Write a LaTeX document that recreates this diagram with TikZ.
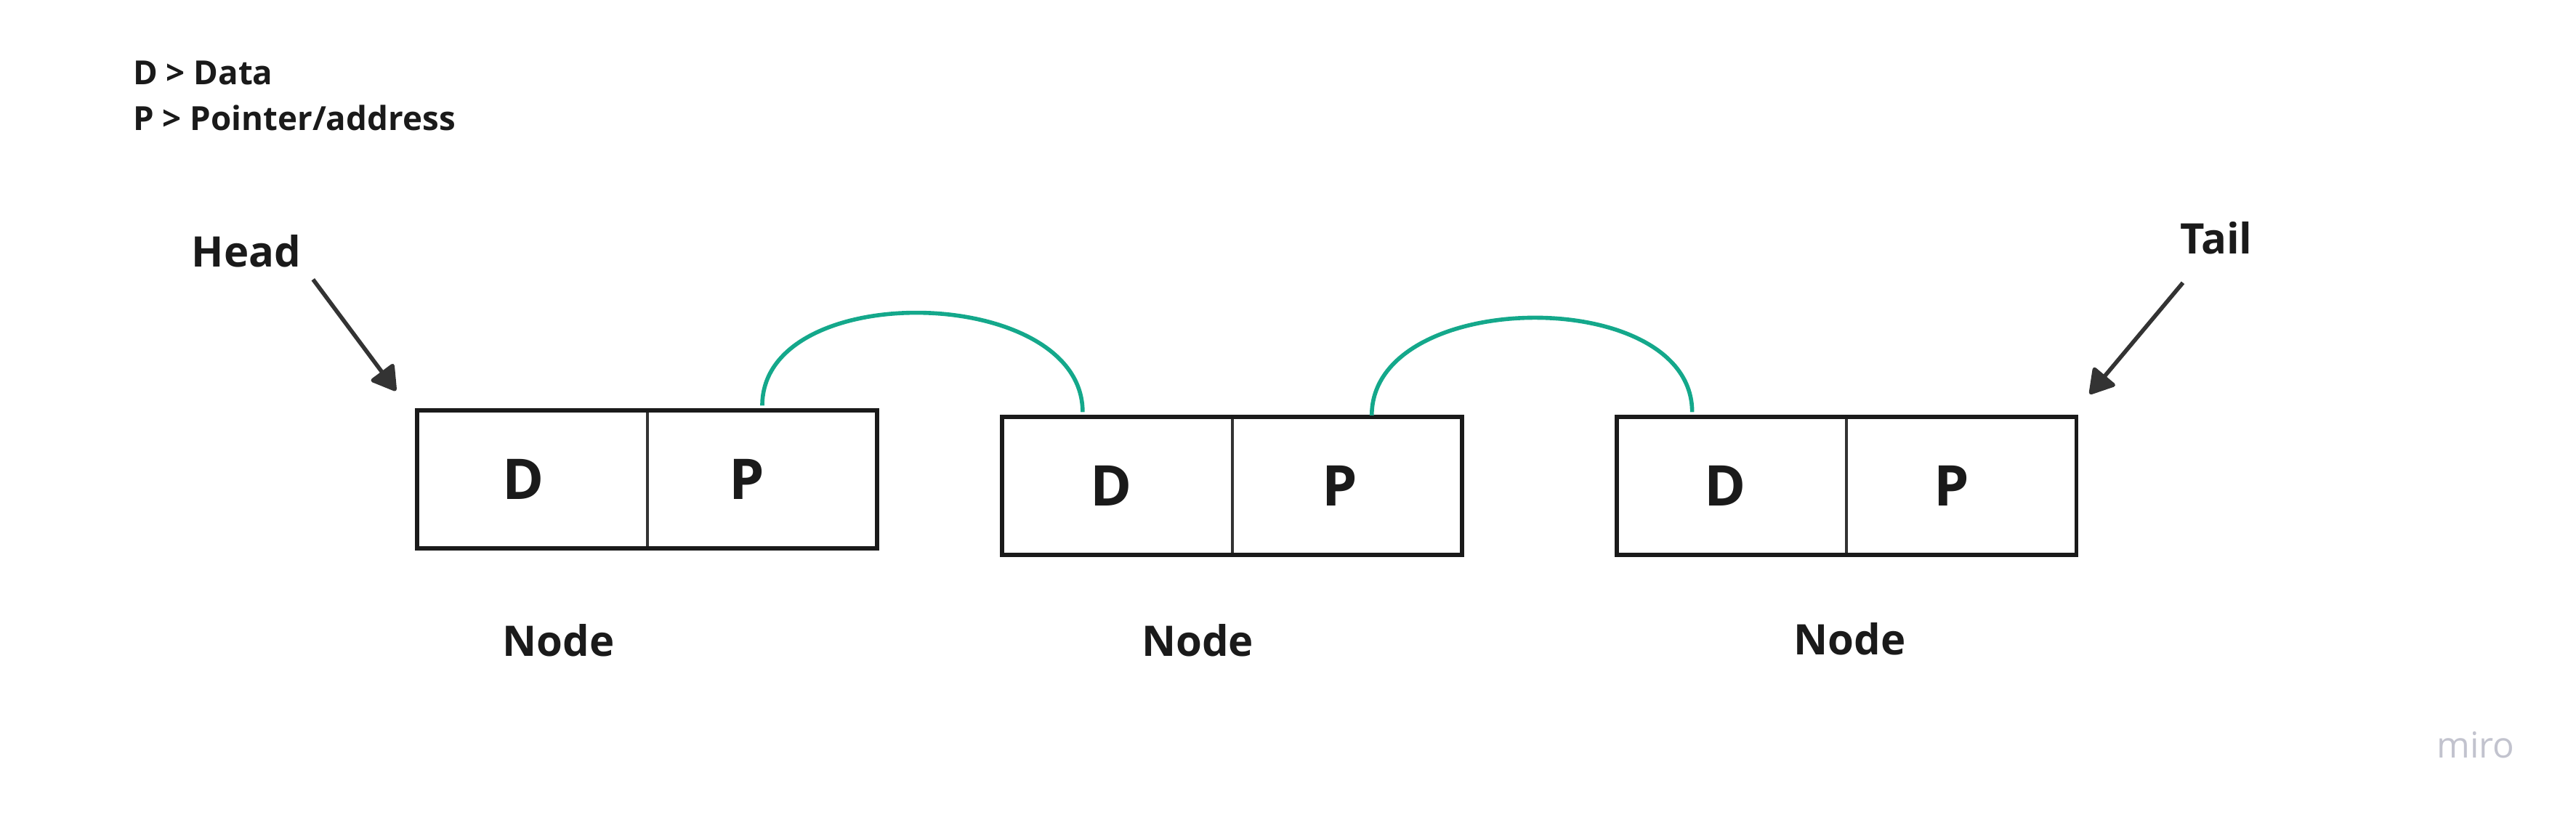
\documentclass[tikz,border=0pt]{standalone}
\usepackage{fontspec}
\setmainfont{Open Sans}
\usetikzlibrary{arrows.meta,positioning,fit}
\definecolor{ink}{HTML}{1A1A1A}
\definecolor{arrowgray}{HTML}{333333}
\definecolor{linkteal}{HTML}{14A88B}
\definecolor{brandgray}{HTML}{C2C3CE}

\begin{document}
\begin{tikzpicture}[x=0.2261mm,y=-0.2261mm]
      \tikzstyle{cell}=[rectangle,draw=arrowgray,line width=1.1pt,minimum width=31.65mm,minimum height=19mm,inner sep=0pt,outer sep=0pt,text=ink,font=\fontsize{22}{24}\selectfont\bfseries]
      \tikzstyle{frame}=[rectangle,draw=ink,line width=1.6pt,inner sep=0pt,outer sep=0pt]
      \tikzstyle{lbl}=[inner sep=0pt,text=ink,font=\fontsize{16.5}{20}\selectfont\bfseries]
      \tikzstyle{key}=[inner sep=0pt,anchor=base west,text=ink,font=\fontsize{13}{16}\selectfont\bfseries]
      \tikzstyle{link}=[draw=linkteal,line width=1.6pt]
      \tikzstyle{pointer}=[draw=arrowgray,line width=1.6pt,-{Triangle[length=3.6mm,width=4.2mm,round]}]
      \useasboundingbox (0,0) rectangle (1568,499);
      % legend
      \node[key] (keyd) at (80.7,51.6) {D > Data};
      \node[key] (keyp) at (80.7,79.6) {P > Pointer/address};
      % list nodes
      \node[cell] (d1) at (324,292) {\hspace*{-7pt}D};
      \node[cell,right=0pt of d1] (p1) {\hspace*{-12pt}P};
      \node[frame,fit=(d1)(p1)] (n1) {};
      \node[cell] (d2) at (680,296) {\hspace*{-4.5pt}D};
      \node[cell,right=0pt of d2] (p2) {\hspace*{-6pt}P};
      \node[frame,fit=(d2)(p2)] (n2) {};
      \node[cell] (d3) at (1054,296) {\hspace*{-5pt}D};
      \node[cell,right=0pt of d3] (p3) {\hspace*{-8pt}P};
      \node[frame,fit=(d3)(p3)] (n3) {};
      \node[lbl] (lab1) at (340,390) {Node};
      \node[lbl] (lab2) at (729,390) {Node};
      \node[lbl] (lab3) at (1126,389) {Node};
      % head and tail
      \node[lbl] (head) at (150,153) {Head};
      \node[lbl] (tail) at (1349,145) {Tail};
      \draw[pointer] ([shift={(7,7)}]head.south east) -- ([shift={(-13,-12)}]n1.north west);
      \draw[pointer] ([shift={(2,17)}]tail.south west) -- ([shift={(8,-14)}]n3.north east);
      % links
      \draw[link] ([shift={(0,-3)}]p1.north) .. controls +(0,-78) and +(0,-78) .. ([shift={(-21,-3)}]d2.north);
      \draw[link] ([shift={(15,-1)}]p2.north) .. controls +(0,-78) and +(0,-78) .. ([shift={(-24,-3)}]d3.north);
      \node[anchor=base,inner sep=0pt,text=brandgray,font=\fontsize{14}{16}\selectfont] (brand) at (1507,461.7) {miro};
    \end{tikzpicture}
\end{document}
